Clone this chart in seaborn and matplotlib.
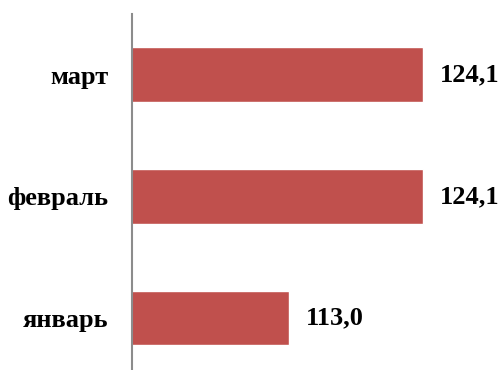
import matplotlib
matplotlib.use('Agg')
import matplotlib.pyplot as plt
import seaborn as sns

months = ['март', 'февраль', 'январь']
values = [124.1, 124.1, 113.0]
value_labels = ['124,1', '124,1', '113,0']

sns.set_theme(style='white')
plt.rcParams['font.family'] = ['Liberation Serif', 'DejaVu Serif']

fig = plt.figure(figsize=(5, 3.7), dpi=100)
ax = fig.add_axes([132 / 500, 0, 368 / 500, 356 / 370])

sns.barplot(x=values, y=months, color='#C0504D', width=0.45, saturation=1,
            orient='h', ax=ax)

ax.set_xlim(100, 130.5)
ax.set_ylim(2.428, -0.5)

ax.bar_label(ax.containers[0], labels=value_labels, padding=12,
             fontsize=19, fontweight='bold', color='black')

for side in ['top', 'right', 'bottom']:
    ax.spines[side].set_visible(False)
ax.spines['left'].set_color('#8c8c8c')
ax.spines['left'].set_linewidth(1.5)

ax.set_xticks([])
ax.set_xlabel('')
ax.set_ylabel('')
ax.tick_params(axis='y', length=0, pad=17)
for lbl in ax.get_yticklabels():
    lbl.set_fontsize(19)
    lbl.set_fontweight('bold')
    lbl.set_color('black')

fig.savefig('out.png', dpi=100)
